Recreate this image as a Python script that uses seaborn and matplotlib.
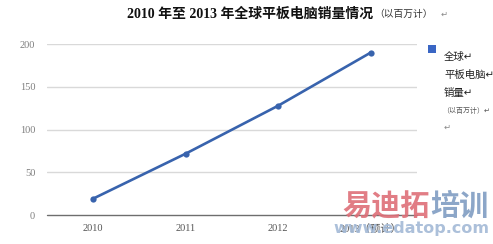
import matplotlib
matplotlib.use("Agg")
import matplotlib.pyplot as plt
import seaborn as sns
import pandas as pd
from matplotlib.patches import Rectangle

years = ["2010", "2011", "2012", "2013（预计）"]
sales = [19.5, 72, 128, 190]
y_ticks = [0, 50, 100, 150, 200]
title_main = "2010 年至 2013 年全球平板电脑销量情况"
title_unit = "（以百万计）"
legend_lines = ["全球", "平板电脑", "销量"]
legend_unit = "（以百万计）"

sns.set_theme(style="white")
FAM = ["Liberation Serif", "Noto Sans CJK SC", "DejaVu Sans"]
plt.rcParams["font.family"] = FAM

df = pd.DataFrame({"year": years, "sales": sales})

W, H = 493, 244
fig = plt.figure(figsize=(W / 100, H / 100), dpi=100)
fig.patch.set_facecolor("white")
ax = fig.add_axes([47 / W, 28.7 / H, 370 / W, 171.3 / H])

blue = "#3863ad"
sns.lineplot(data=df, x="year", y="sales", ax=ax, color=blue, linewidth=1.9,
             marker="o", markersize=4.5, markeredgewidth=0, sort=False)

ax.set_xlim(-0.5, 3.5)
ax.set_ylim(0, 200)
ax.set_yticks(y_ticks)
for v in y_ticks[1:]:
    ax.axhline(v, color="#d9d9d9", linewidth=1.0, zorder=0)
ax.axhline(0, color="#6e6e6e", linewidth=1.0, zorder=1, clip_on=False)
for s in ax.spines.values():
    s.set_visible(False)
ax.set_xlabel("")
ax.set_ylabel("")
ax.tick_params(axis="y", length=0, pad=8.5, labelsize=7.5, labelcolor="#7f7f7f")
ax.tick_params(axis="x", length=0, pad=6.5, labelsize=7.5, labelcolor="#555555")
for lab in ax.get_xticklabels() + ax.get_yticklabels():
    lab.set_family(FAM)

# title
fig.text(127 / W, 1 - 14 / H, title_main, ha="left", va="center", fontsize=10,
         fontweight="bold", color="#111111", family=FAM)
fig.text(374 / W, 1 - 14 / H, title_unit, ha="left", va="center", fontsize=7,
         color="#333333", family=FAM)
fig.text(441 / W, 1 - 14 / H, "↵", ha="left", va="center", fontsize=6,
         color="#888888", family=["DejaVu Sans"])

# legend
fig.patches.append(Rectangle((428 / W, 1 - 53 / H), 8 / W, 8 / H,
                             transform=fig.transFigure, facecolor="#3a66c4",
                             edgecolor="none"))
ys = [57, 75, 93]
for t, yy in zip(legend_lines, ys):
    fig.text(444 / W, 1 - yy / H, t + "↵", ha="left", va="center", fontsize=7.5,
             color="#222222", family=FAM)
fig.text(442 / W, 1 - 110 / H, legend_unit + "↵", ha="left", va="center",
         fontsize=5, color="#555555", family=FAM)
fig.text(444 / W, 1 - 127 / H, "↵", ha="left", va="center", fontsize=6,
         color="#888888", family=["DejaVu Sans"])

# watermark
fig.text(342 / W, 1 - 206 / H, "易迪拓", ha="left", va="center", fontsize=21,
         fontweight="bold", color="#de6f78", alpha=0.9, family=["Noto Sans CJK SC"])
fig.text(430 / W, 1 - 206 / H, "培训", ha="left", va="center", fontsize=21,
         fontweight="bold", color="#809dc2", alpha=0.9, family=["Noto Sans CJK SC"])
fig.text(489 / W, 1 - 228 / H, "www.edatop.com", ha="right", va="center",
         fontsize=11.5, fontweight="bold", color="#a3b9d6", alpha=0.9,
         family=["DejaVu Sans"])

fig.savefig("out.png", dpi=100)
